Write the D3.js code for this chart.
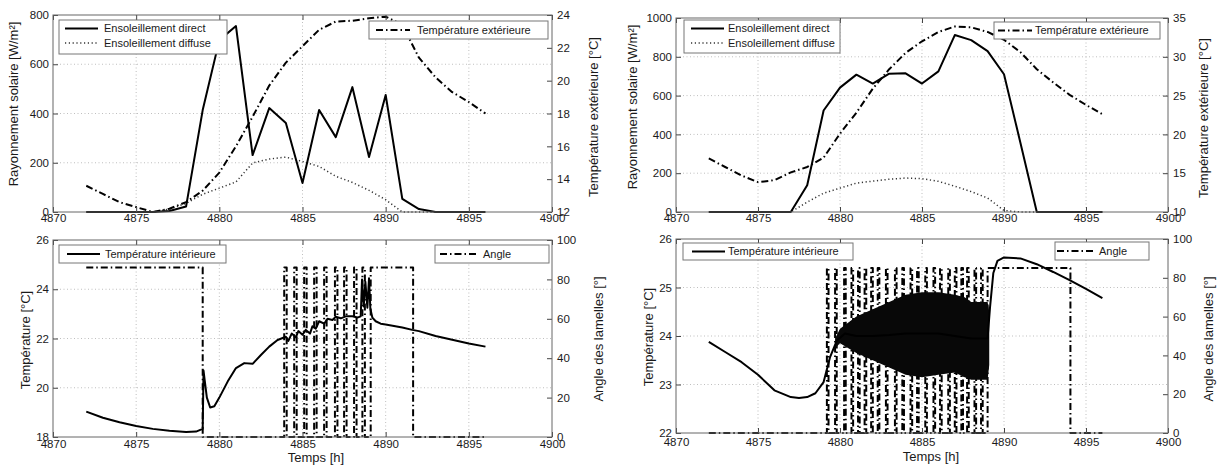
<!DOCTYPE html>
<html>
<head>
<meta charset="utf-8">
<script src="https://cdn.jsdelivr.net/npm/d3@7"></script>
<style>
  body { margin: 0; background: #fff; }
  svg text { font-family: "Liberation Sans", Arial, sans-serif; fill: #1a1a1a; }
</style>
</head>
<body>
<svg id="chart" width="1221" height="466"></svg>
<script>
// ---------- data ----------
const hours = [4872, 4873, 4874, 4875, 4876, 4877, 4878, 4879, 4880, 4881, 4882, 4883, 4884,
               4885, 4886, 4887, 4888, 4889, 4890, 4891, 4892, 4893, 4894, 4895, 4896];
const xTicks = [4870, 4875, 4880, 4885, 4890, 4895, 4900];

// left case
const directL  = [0, 0, 0, 0, 0, 4, 22, 414, 698, 755, 231, 422, 361, 118, 414, 304, 507, 223, 475, 53, 12, 0, 0, 0, 0];
const diffuseL = [0, 0, 0, 0, 0, 12, 35, 72, 97, 122, 199, 215, 223, 205, 185, 145, 120, 88, 50, 0, 0, 0, 0, 0, 0];
const tempExtL = [13.6, 13.1, 12.6, 12.3, 12.0, 12.2, 12.6, 13.3, 14.4, 16.0, 17.8, 19.7, 21.1, 22.1,
                  23.1, 23.6, 23.65, 23.8, 23.9, 23.4, 21.4, 20.2, 19.3, 18.7, 18.0];
const tempIntL = [[4872, 19.03], [4873, 18.78], [4874, 18.6], [4875, 18.45], [4876, 18.33], [4877, 18.25],
  [4878, 18.2], [4878.6, 18.22], [4879, 18.33], [4879.05, 20.7], [4879.12, 20.3], [4879.25, 19.6],
  [4879.45, 19.2], [4879.7, 19.25], [4880, 19.6], [4880.5, 20.25], [4881, 20.8], [4881.5, 21.0],
  [4882, 20.97], [4882.5, 21.33], [4883, 21.67], [4883.5, 21.94], [4884, 22.07], [4884.15, 21.9],
  [4884.35, 22.2], [4884.6, 22.05], [4884.75, 22.3], [4885, 22.15], [4885.2, 22.35], [4885.45, 22.2],
  [4885.6, 22.5], [4885.8, 22.4], [4886, 22.7], [4886.3, 22.6], [4886.5, 22.8], [4886.8, 22.75],
  [4887, 22.88], [4887.3, 22.82], [4887.6, 22.9], [4888, 22.9], [4888.3, 22.85], [4888.5, 22.9],
  [4888.58, 24.4], [4888.68, 23.3], [4888.78, 24.3], [4888.9, 23.25], [4889.0, 24.45], [4889.08, 23.2],
  [4889.2, 22.85], [4889.4, 22.7], [4889.7, 22.6], [4890, 22.57], [4891, 22.45], [4891.6, 22.35],
  [4892, 22.3], [4893, 22.1], [4894, 21.95], [4895, 21.8], [4896, 21.67]];
const angleBaseL   = [[4872, 86], [4879.0, 0], [4889.1, 86], [4891.65, 0], [4896, 0]];
const anglePulsesL = [4883.9, 4884.5, 4885.1, 4885.7, 4886.3, 4886.95, 4887.5, 4888.1, 4888.6];

// right case
const directR  = [0, 0, 0, 0, 0, 0, 138, 523, 641, 708, 662, 713, 715, 662, 725, 912, 886, 829, 710, 357, 0, 0, 0, 0, 0];
const diffuseR = [0, 0, 0, 0, 0, 0, 51, 97, 123, 149, 159, 169, 175, 172, 158, 133, 105, 72, 8, 0, 0, 0, 0, 0, 0];
const tempExtR = [16.9, 15.8, 14.7, 13.85, 14.1, 15.1, 15.8, 17.0, 20.1, 22.8, 25.9, 28.4, 30.5, 32.0,
                  33.2, 33.9, 33.8, 33.2, 32.2, 30.6, 28.4, 26.7, 25.1, 23.8, 22.6];
const tempIntR = [[4872, 23.88], [4873, 23.67], [4874, 23.46], [4875, 23.2], [4876, 22.88], [4877, 22.74],
  [4877.5, 22.72], [4878, 22.74], [4878.5, 22.82], [4879, 23.05], [4879.4, 23.57], [4879.8, 23.9],
  [4880.3, 24.05], [4881, 24.0], [4882, 24.0], [4883, 24.02], [4884, 24.05], [4885, 24.05], [4886, 24.05],
  [4887, 24.0], [4888, 23.95], [4889, 23.95], [4889.15, 24.6], [4889.35, 25.3], [4889.6, 25.55],
  [4890, 25.62], [4891, 25.6], [4892, 25.48], [4893, 25.32], [4894, 25.15], [4895, 24.97], [4896, 24.78]];
// oscillation envelope of the inner temperature: [hour, low, high]
const bandR = [[4879.7, 23.75, 23.95], [4880, 23.85, 24.15], [4881, 23.65, 24.4], [4882, 23.5, 24.55],
  [4883, 23.35, 24.7], [4884, 23.2, 24.85], [4885, 23.15, 24.9], [4886, 23.2, 24.9], [4887, 23.25, 24.85],
  [4887.6, 23.15, 24.8], [4888, 23.1, 24.7], [4889, 23.1, 24.7], [4889.1, 23.4, 24.5]];
const angleBaseR   = [[4872, 0], [4889.0, 85], [4894.05, 0], [4896, 0]];
const anglePulsesR = [4879.2, 4879.7, 4880.25, 4880.7, 4881.1, 4881.5, 4881.9, 4882.3, 4882.8, 4883.35,
  4883.8, 4884.3, 4884.7, 4885.2, 4885.7, 4886.1, 4886.6, 4887.0, 4887.4, 4887.75, 4888.2, 4888.6];

// ---------- drawing ----------
const svg = d3.select("#chart");
const STY = {
  solid:   { w: 2,   dash: null,        c: "#000" },
  dot:     { w: 1.5, dash: "1.2,2.6",   c: "#333" },
  dashdot: { w: 2,   dash: "7,3,1.5,3", c: "#000" }
};
const fmtInt = d3.format("d");

function makePanel(p) {
  let vis = { p: p };
  vis.g = svg.append("g");
  vis.x = d3.scaleLinear().domain([4870, 4900]).range([p.x0, p.x1]);
  vis.yl = d3.scaleLinear().domain(p.yl).range([p.y1, p.y0]);
  vis.yr = d3.scaleLinear().domain(p.yr).range([p.y1, p.y0]);

  // dotted grid
  let grid = vis.g.append("g").attr("stroke", "#b8b8b8").attr("stroke-width", 0.9)
    .attr("stroke-dasharray", "1,2.5");
  grid.selectAll(".gx").data(xTicks.slice(1, -1)).join("line")
    .attr("x1", d => vis.x(d)).attr("x2", d => vis.x(d))
    .attr("y1", p.y0).attr("y2", p.y1);
  grid.selectAll(".gy").data(p.ylt.slice(1, -1)).join("line")
    .attr("x1", p.x0).attr("x2", p.x1)
    .attr("y1", d => vis.yl(d)).attr("y2", d => vis.yl(d));
  return vis;
}

function finishPanel(vis) {
  let p = vis.p;
  const style = a => a.attr("font-size", 11.5).attr("font-family", null).attr("color", "#444")
    .call(s => s.select(".domain").remove());

  vis.g.append("g").attr("transform", "translate(0," + p.y1 + ")")
    .call(d3.axisBottom(vis.x).tickValues(xTicks).tickSize(-5).tickPadding(p.xPad).tickFormat(fmtInt))
    .call(style);
  vis.g.append("g").attr("transform", "translate(0," + p.y0 + ")")
    .call(d3.axisTop(vis.x).tickValues(xTicks).tickSize(-5).tickFormat(""))
    .call(style);
  vis.g.append("g").attr("transform", "translate(" + p.x0 + ",0)")
    .call(d3.axisLeft(vis.yl).tickValues(p.ylt).tickSize(-5).tickPadding(4).tickFormat(fmtInt))
    .call(style);
  vis.g.append("g").attr("transform", "translate(" + p.x1 + ",0)")
    .call(d3.axisRight(vis.yr).tickValues(p.yrt).tickSize(-5).tickPadding(5).tickFormat(fmtInt))
    .call(style);
  vis.g.selectAll(".tick text").attr("fill", "#1a1a1a");

  vis.g.append("rect")
    .attr("x", p.x0).attr("y", p.y0)
    .attr("width", p.x1 - p.x0).attr("height", p.y1 - p.y0)
    .attr("fill", "none").attr("stroke", "#666").attr("stroke-width", 1);
}

function drawLine(vis, y, pts, sty, curve) {
  let line = d3.line().x(d => vis.x(d[0])).y(d => y(d[1])).curve(curve || d3.curveLinear);
  vis.g.append("path").datum(pts)
    .attr("fill", "none").attr("stroke", sty.c).attr("stroke-width", sty.w)
    .attr("stroke-dasharray", sty.dash).attr("stroke-linejoin", "round")
    .attr("d", line);
}

function legend(vis, box, items) {
  let g = vis.g.append("g");
  g.append("rect").attr("x", box.x).attr("y", box.y).attr("width", box.w).attr("height", box.h)
    .attr("fill", "#fff").attr("stroke", "#777").attr("stroke-width", 1);
  items.forEach((it, i) => {
    let cy = items.length == 1 ? box.y + box.h / 2 : box.y + 8.5 + i * 14.5;
    g.append("line").attr("x1", box.x + box.s0).attr("x2", box.x + box.s1)
      .attr("y1", cy).attr("y2", cy)
      .attr("stroke", it.sty.c).attr("stroke-width", it.sty.w).attr("stroke-dasharray", it.sty.dash);
    g.append("text").attr("x", box.x + box.t).attr("y", cy).attr("dy", "0.35em")
      .attr("font-size", 11).text(it.label);
  });
}

function yTitle(x, y, label) {
  svg.append("text").attr("transform", "translate(" + x + "," + y + ") rotate(-90)")
    .attr("text-anchor", "middle").attr("dy", "0.35em").attr("font-size", 13).text(label);
}

function angleSteps(base, pulses, top, w) {
  let pts = base.slice();
  pulses.forEach(t => { pts.push([t, top]); pts.push([t + w, 0]); });
  return pts.sort((a, b) => a[0] - b[0]);
}

const byHour = arr => hours.map((h, i) => [h, arr[i]]);

// ---- top left ----
let tl = makePanel({ x0: 53, x1: 552, y0: 15, y1: 212, yl: [0, 800], yr: [12, 24],
  ylt: [0, 200, 400, 600, 800], yrt: [12, 14, 16, 18, 20, 22, 24], xPad: 1.5 });
drawLine(tl, tl.yl, byHour(diffuseL), STY.dot);
drawLine(tl, tl.yr, byHour(tempExtL), STY.dashdot);
drawLine(tl, tl.yl, byHour(directL), STY.solid);
finishPanel(tl);
legend(tl, { x: 59, y: 20, w: 168, h: 34, s0: 6, s1: 39, t: 45 },
  [{ label: "Ensoleillement direct", sty: STY.solid }, { label: "Ensoleillement diffuse", sty: STY.dot }]);
legend(tl, { x: 369, y: 21, w: 179, h: 18, s0: 7, s1: 41, t: 48 },
  [{ label: "Température extérieure", sty: STY.dashdot }]);

// ---- bottom left ----
let bl = makePanel({ x0: 53, x1: 552, y0: 240, y1: 437, yl: [18, 26], yr: [0, 100],
  ylt: [18, 20, 22, 24, 26], yrt: [0, 20, 40, 60, 80, 100], xPad: 2.5 });
drawLine(bl, bl.yr, angleSteps(angleBaseL, anglePulsesL, 86, 0.15), STY.dashdot, d3.curveStepAfter);
drawLine(bl, bl.yl, tempIntL, STY.solid);
finishPanel(bl);
legend(bl, { x: 59, y: 245, w: 167, h: 18, s0: 8, s1: 41, t: 46 },
  [{ label: "Température intérieure", sty: STY.solid }]);
legend(bl, { x: 435, y: 245, w: 114, h: 18, s0: 5, s1: 42, t: 48 },
  [{ label: "Angle", sty: STY.dashdot }]);

// ---- top right ----
let tr = makePanel({ x0: 676, x1: 1168, y0: 18, y1: 212, yl: [0, 1000], yr: [10, 35],
  ylt: [0, 200, 400, 600, 800, 1000], yrt: [10, 15, 20, 25, 30, 35], xPad: 2 });
drawLine(tr, tr.yl, byHour(diffuseR), STY.dot);
drawLine(tr, tr.yr, byHour(tempExtR), STY.dashdot);
drawLine(tr, tr.yl, byHour(directR), STY.solid);
finishPanel(tr);
legend(tr, { x: 684, y: 20, w: 156, h: 33, s0: 7, s1: 40, t: 44 },
  [{ label: "Ensoleillement direct", sty: STY.solid }, { label: "Ensoleillement diffuse", sty: STY.dot }]);
legend(tr, { x: 994, y: 22, w: 166, h: 17, s0: 4, s1: 38, t: 41 },
  [{ label: "Température extérieure", sty: STY.dashdot }]);

// ---- bottom right ----
let br = makePanel({ x0: 676, x1: 1168, y0: 239, y1: 433, yl: [22, 26], yr: [0, 100],
  ylt: [22, 23, 24, 25, 26], yrt: [0, 20, 40, 60, 80, 100], xPad: 5 });
drawLine(br, br.yr, angleSteps(angleBaseR, anglePulsesR, 85, 0.1), STY.dashdot, d3.curveStepAfter);
br.g.append("path").datum(bandR)
  .attr("fill", "#080808")
  .attr("d", d3.area().x(d => br.x(d[0])).y0(d => br.yl(d[1])).y1(d => br.yl(d[2])));
drawLine(br, br.yl, tempIntR, STY.solid);
finishPanel(br);
legend(br, { x: 683, y: 243, w: 170, h: 17, s0: 9, s1: 42, t: 45 },
  [{ label: "Température intérieure", sty: STY.solid }]);
legend(br, { x: 1055, y: 242, w: 94, h: 18, s0: 2, s1: 40, t: 44 },
  [{ label: "Angle", sty: STY.dashdot }]);

// ---- axis titles ----
yTitle(13, 104, "Rayonnement solaire  [W/m²]");
yTitle(593, 117, "Température extérieure [°C]");
yTitle(25, 340, "Température [°C]");
yTitle(598, 339, "Angle des lamelles [°]");
yTitle(632, 107, "Rayonnement solaire [W/m²]");
yTitle(1203, 118, "Température extérieure [°C]");
yTitle(648, 337, "Température [°C]");
yTitle(1208, 339, "Angle des lamelles [°]");
svg.append("text").attr("x", 316).attr("y", 462).attr("text-anchor", "middle").attr("font-size", 13).text("Temps [h]");
svg.append("text").attr("x", 931).attr("y", 461).attr("text-anchor", "middle").attr("font-size", 13).text("Temps [h]");
</script>
</body>
</html>
